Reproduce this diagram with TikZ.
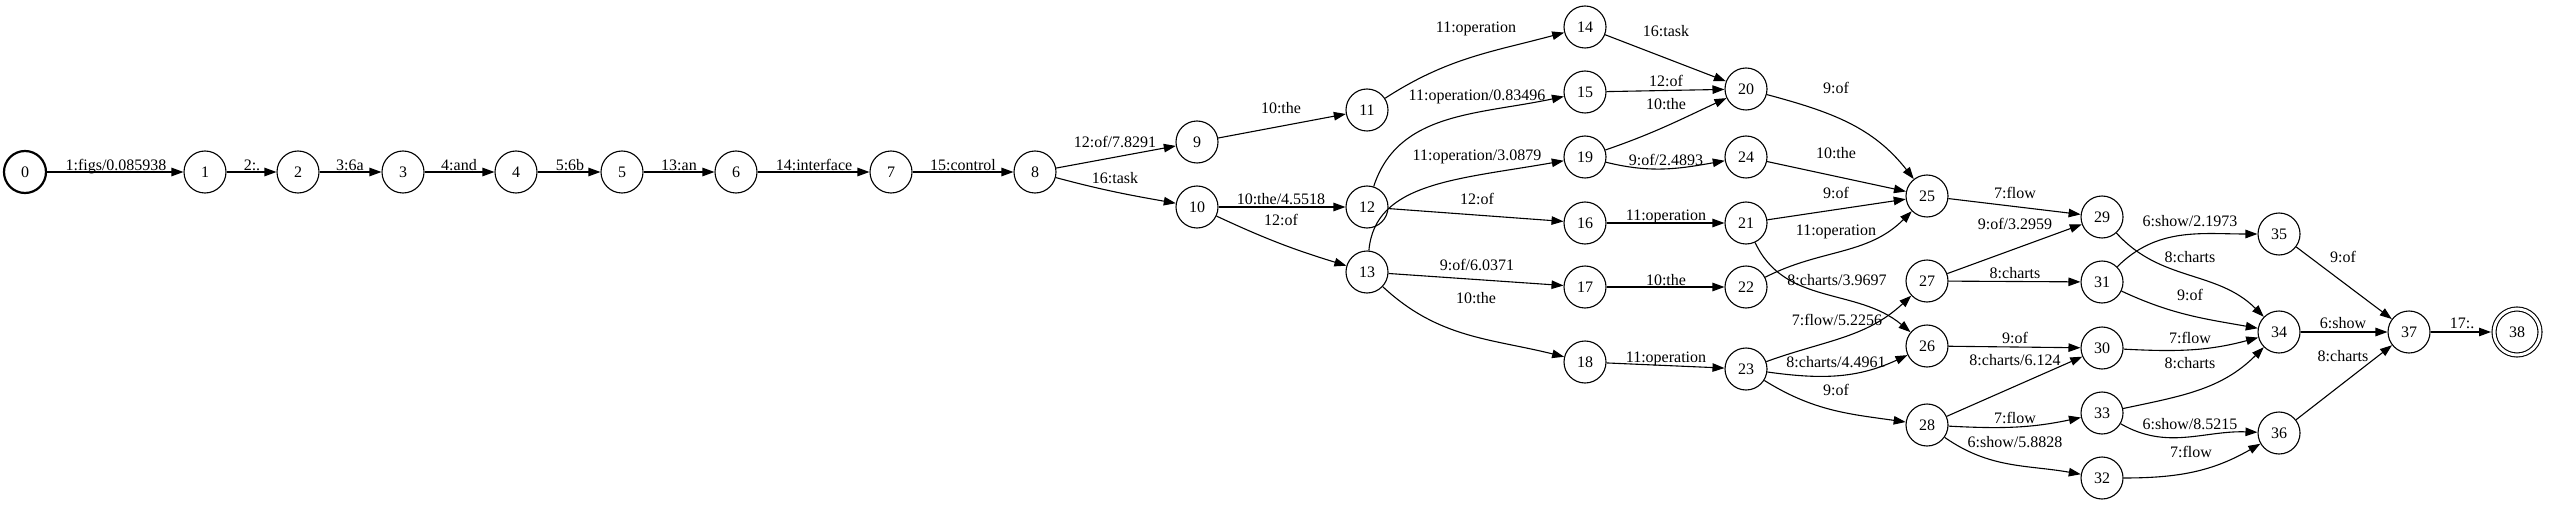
\documentclass[tikz,border=0pt]{standalone}
\usepackage{fontspec}
\setmainfont{Liberation Serif}
\usetikzlibrary{arrows.meta}

\begin{document}
\begin{tikzpicture}[x=1pt, y=1pt, line join=round, >={Triangle[length=12pt,width=8.5pt]},
	every node/.style={font=\fontsize{16}{16}\selectfont},
	state/.style={draw, circle, line width=1.1pt, minimum size=42pt, inner sep=0pt},
	edge/.style={->, line width=1.1pt},
	lbl/.style={inner sep=0pt, text height=10.5pt, text depth=0pt}]
	\useasboundingbox (0,0) rectangle (2550,-505);
	% states
	\node[state, line width=2.2pt] (s0) at (25,-172) {0};
	\node[state] (s1) at (205,-172) {1};
	\node[state] (s2) at (298,-172) {2};
	\node[state] (s3) at (403,-172) {3};
	\node[state] (s4) at (516,-172) {4};
	\node[state] (s5) at (622,-172) {5};
	\node[state] (s6) at (736,-172) {6};
	\node[state] (s7) at (891,-172) {7};
	\node[state] (s8) at (1035,-172) {8};
	\node[state] (s9) at (1197,-142) {9};
	\node[state] (s10) at (1197,-207) {10};
	\node[state] (s11) at (1367,-110) {11};
	\node[state] (s12) at (1367,-207) {12};
	\node[state] (s13) at (1367,-272) {13};
	\node[state] (s14) at (1585,-27) {14};
	\node[state] (s15) at (1585,-92) {15};
	\node[state] (s19) at (1585,-157) {19};
	\node[state] (s16) at (1585,-223) {16};
	\node[state] (s17) at (1585,-287) {17};
	\node[state] (s18) at (1585,-362) {18};
	\node[state] (s20) at (1746,-89) {20};
	\node[state] (s24) at (1746,-157) {24};
	\node[state] (s21) at (1746,-223) {21};
	\node[state] (s22) at (1746,-287) {22};
	\node[state] (s23) at (1746,-369) {23};
	\node[state] (s25) at (1927,-196) {25};
	\node[state] (s27) at (1927,-281) {27};
	\node[state] (s26) at (1927,-346) {26};
	\node[state] (s28) at (1927,-425) {28};
	\node[state] (s29) at (2102,-217) {29};
	\node[state] (s31) at (2102,-282) {31};
	\node[state] (s30) at (2102,-348) {30};
	\node[state] (s33) at (2102,-413) {33};
	\node[state] (s32) at (2102,-478) {32};
	\node[state] (s35) at (2279,-234) {35};
	\node[state] (s34) at (2279,-332) {34};
	\node[state] (s36) at (2279,-433) {36};
	\node[state] (s37) at (2409,-332) {37};
	\node[state, double, double distance=2.9pt, minimum size=46pt, outer sep=3pt] (s38) at (2517,-332) {38};

	% arcs
	\draw[edge] (s0) -- (s1) node[lbl] (t1) at (116,-165) {1:figs/0.085938};
	\draw[edge] (s1) -- (s2) node[lbl] (t2) at (252,-165) {2:.};
	\draw[edge] (s2) -- (s3) node[lbl] (t3) at (350,-165) {3:6a};
	\draw[edge] (s3) -- (s4) node[lbl] (t4) at (459,-165) {4:and};
	\draw[edge] (s4) -- (s5) node[lbl] (t5) at (570,-165) {5:6b};
	\draw[edge] (s5) -- (s6) node[lbl] (t6) at (679,-165) {13:an};
	\draw[edge] (s6) -- (s7) node[lbl] (t7) at (814,-165) {14:interface};
	\draw[edge] (s7) -- (s8) node[lbl] (t8) at (963,-165) {15:control};
	\draw[edge] (s8) -- (s9) node[lbl] (t9) at (1115,-142) {12:of/7.8291};
	\draw[edge] (s8) to[out=-15, in=170] (s10) node[lbl] (t10) at (1115,-178) {16:task};
	\draw[edge] (s9) -- (s11) node[lbl] (t11) at (1281,-108) {10:the};
	\draw[edge] (s10) -- (s12) node[lbl] (t12) at (1281,-199) {10:the/4.5518};
	\draw[edge] (s10) to[out=-25, in=163] (s13) node[lbl] (t13) at (1281,-220) {12:of};
	\draw[edge] (s11) to[out=33, in=195] (s14) node[lbl] (t14) at (1476,-27) {11:operation};
	\draw[edge] (s12) .. controls +(72:100) and +(192:110) .. (s15) node[lbl] (t15) at (1477,-95) {11:operation/0.83496};
	\draw[edge] (s13) .. controls +(85:90) and +(190:130) .. (s19) node[lbl] (t16) at (1477,-155) {11:operation/3.0879};
	\draw[edge] (s12) -- (s16) node[lbl] (t17) at (1477,-199) {12:of};
	\draw[edge] (s13) -- (s17) node[lbl] (t18) at (1477,-265) {9:of/6.0371};
	\draw[edge] (s13) to[out=-43, in=166] (s18) node[lbl] (t19) at (1476,-298) {10:the};
	\draw[edge] (s14) -- (s20) node[lbl] (t20) at (1666,-31) {16:task};
	\draw[edge] (s15) -- (s20) node[lbl] (t21) at (1666,-81) {12:of};
	\draw[edge] (s19) to[out=19, in=205] (s20) node[lbl] (t22) at (1666,-104) {10:the};
	\draw[edge] (s19) to[out=-14, in=190] (s24) node[lbl] (t23) at (1666,-160) {9:of/2.4893};
	\draw[edge] (s16) -- (s21) node[lbl] (t24) at (1666,-215) {11:operation};
	\draw[edge] (s17) -- (s22) node[lbl] (t25) at (1666,-280) {10:the};
	\draw[edge] (s18) -- (s23) node[lbl] (t26) at (1666,-357) {11:operation};
	\draw[edge] (s20) to[out=-15, in=128] (s25) node[lbl] (t27) at (1836,-88) {9:of};
	\draw[edge] (s24) -- (s25) node[lbl] (t28) at (1836,-153) {10:the};
	\draw[edge] (s21) -- (s25) node[lbl] (t29) at (1836,-193) {9:of};
	\draw[edge] (s22) to[out=27, in=225] (s25) node[lbl] (t30) at (1836,-230) {11:operation};
	\draw[edge] (s21) to[out=-65, in=140] (s26) node[lbl] (t31) at (1837,-280) {8:charts/3.9697};
	\draw[edge] (s23) to[out=20, in=223] (s27) node[lbl] (t32) at (1837,-320) {7:flow/5.2256};
	\draw[edge] (s23) to[out=-8, in=205] (s26) node[lbl] (t33) at (1836,-362) {8:charts/4.4961};
	\draw[edge] (s23) to[out=-32, in=172] (s28) node[lbl] (t34) at (1836,-390) {9:of};
	\draw[edge] (s25) -- (s29) node[lbl] (t35) at (2015,-193) {7:flow};
	\draw[edge] (s27) -- (s29) node[lbl] (t36) at (2015,-224) {9:of/3.2959};
	\draw[edge] (s27) -- (s31) node[lbl] (t37) at (2015,-273) {8:charts};
	\draw[edge] (s26) -- (s30) node[lbl] (t38) at (2015,-338) {9:of};
	\draw[edge] (s28) -- (s30) node[lbl] (t39) at (2015,-360) {8:charts/6.124};
	\draw[edge] (s28) to[out=-3, in=192] (s33) node[lbl] (t40) at (2015,-418) {7:flow};
	\draw[edge] (s28) to[out=-35, in=170] (s32) node[lbl] (t41) at (2015,-442) {6:show/5.8828};
	\draw[edge] (s31) to[out=45, in=180] (s35) node[lbl] (t42) at (2190,-221) {6:show/2.1973};
	\draw[edge] (s29) to[out=-48, in=135] (s34) node[lbl] (t43) at (2190,-257) {8:charts};
	\draw[edge] (s31) to[out=-25, in=170] (s34) node[lbl] (t44) at (2190,-295) {9:of};
	\draw[edge] (s30) to[out=-3, in=195] (s34) node[lbl] (t45) at (2190,-338) {7:flow};
	\draw[edge] (s33) to[out=12, in=225] (s34) node[lbl] (t46) at (2190,-363) {8:charts};
	\draw[edge] (s33) to[out=-30, in=178] (s36) node[lbl] (t47) at (2190,-424) {6:show/8.5215};
	\draw[edge] (s32) to[out=0, in=210] (s36) node[lbl] (t48) at (2191,-452) {7:flow};
	\draw[edge] (s35) -- (s37) node[lbl] (t49) at (2343,-257) {9:of};
	\draw[edge] (s34) -- (s37) node[lbl] (t50) at (2343,-323) {6:show};
	\draw[edge] (s36) -- (s37) node[lbl] (t51) at (2343,-356) {8:charts};
	\draw[edge] (s37) -- (s38) node[lbl] (t52) at (2462,-323) {17:.};
\end{tikzpicture}
\end{document}
